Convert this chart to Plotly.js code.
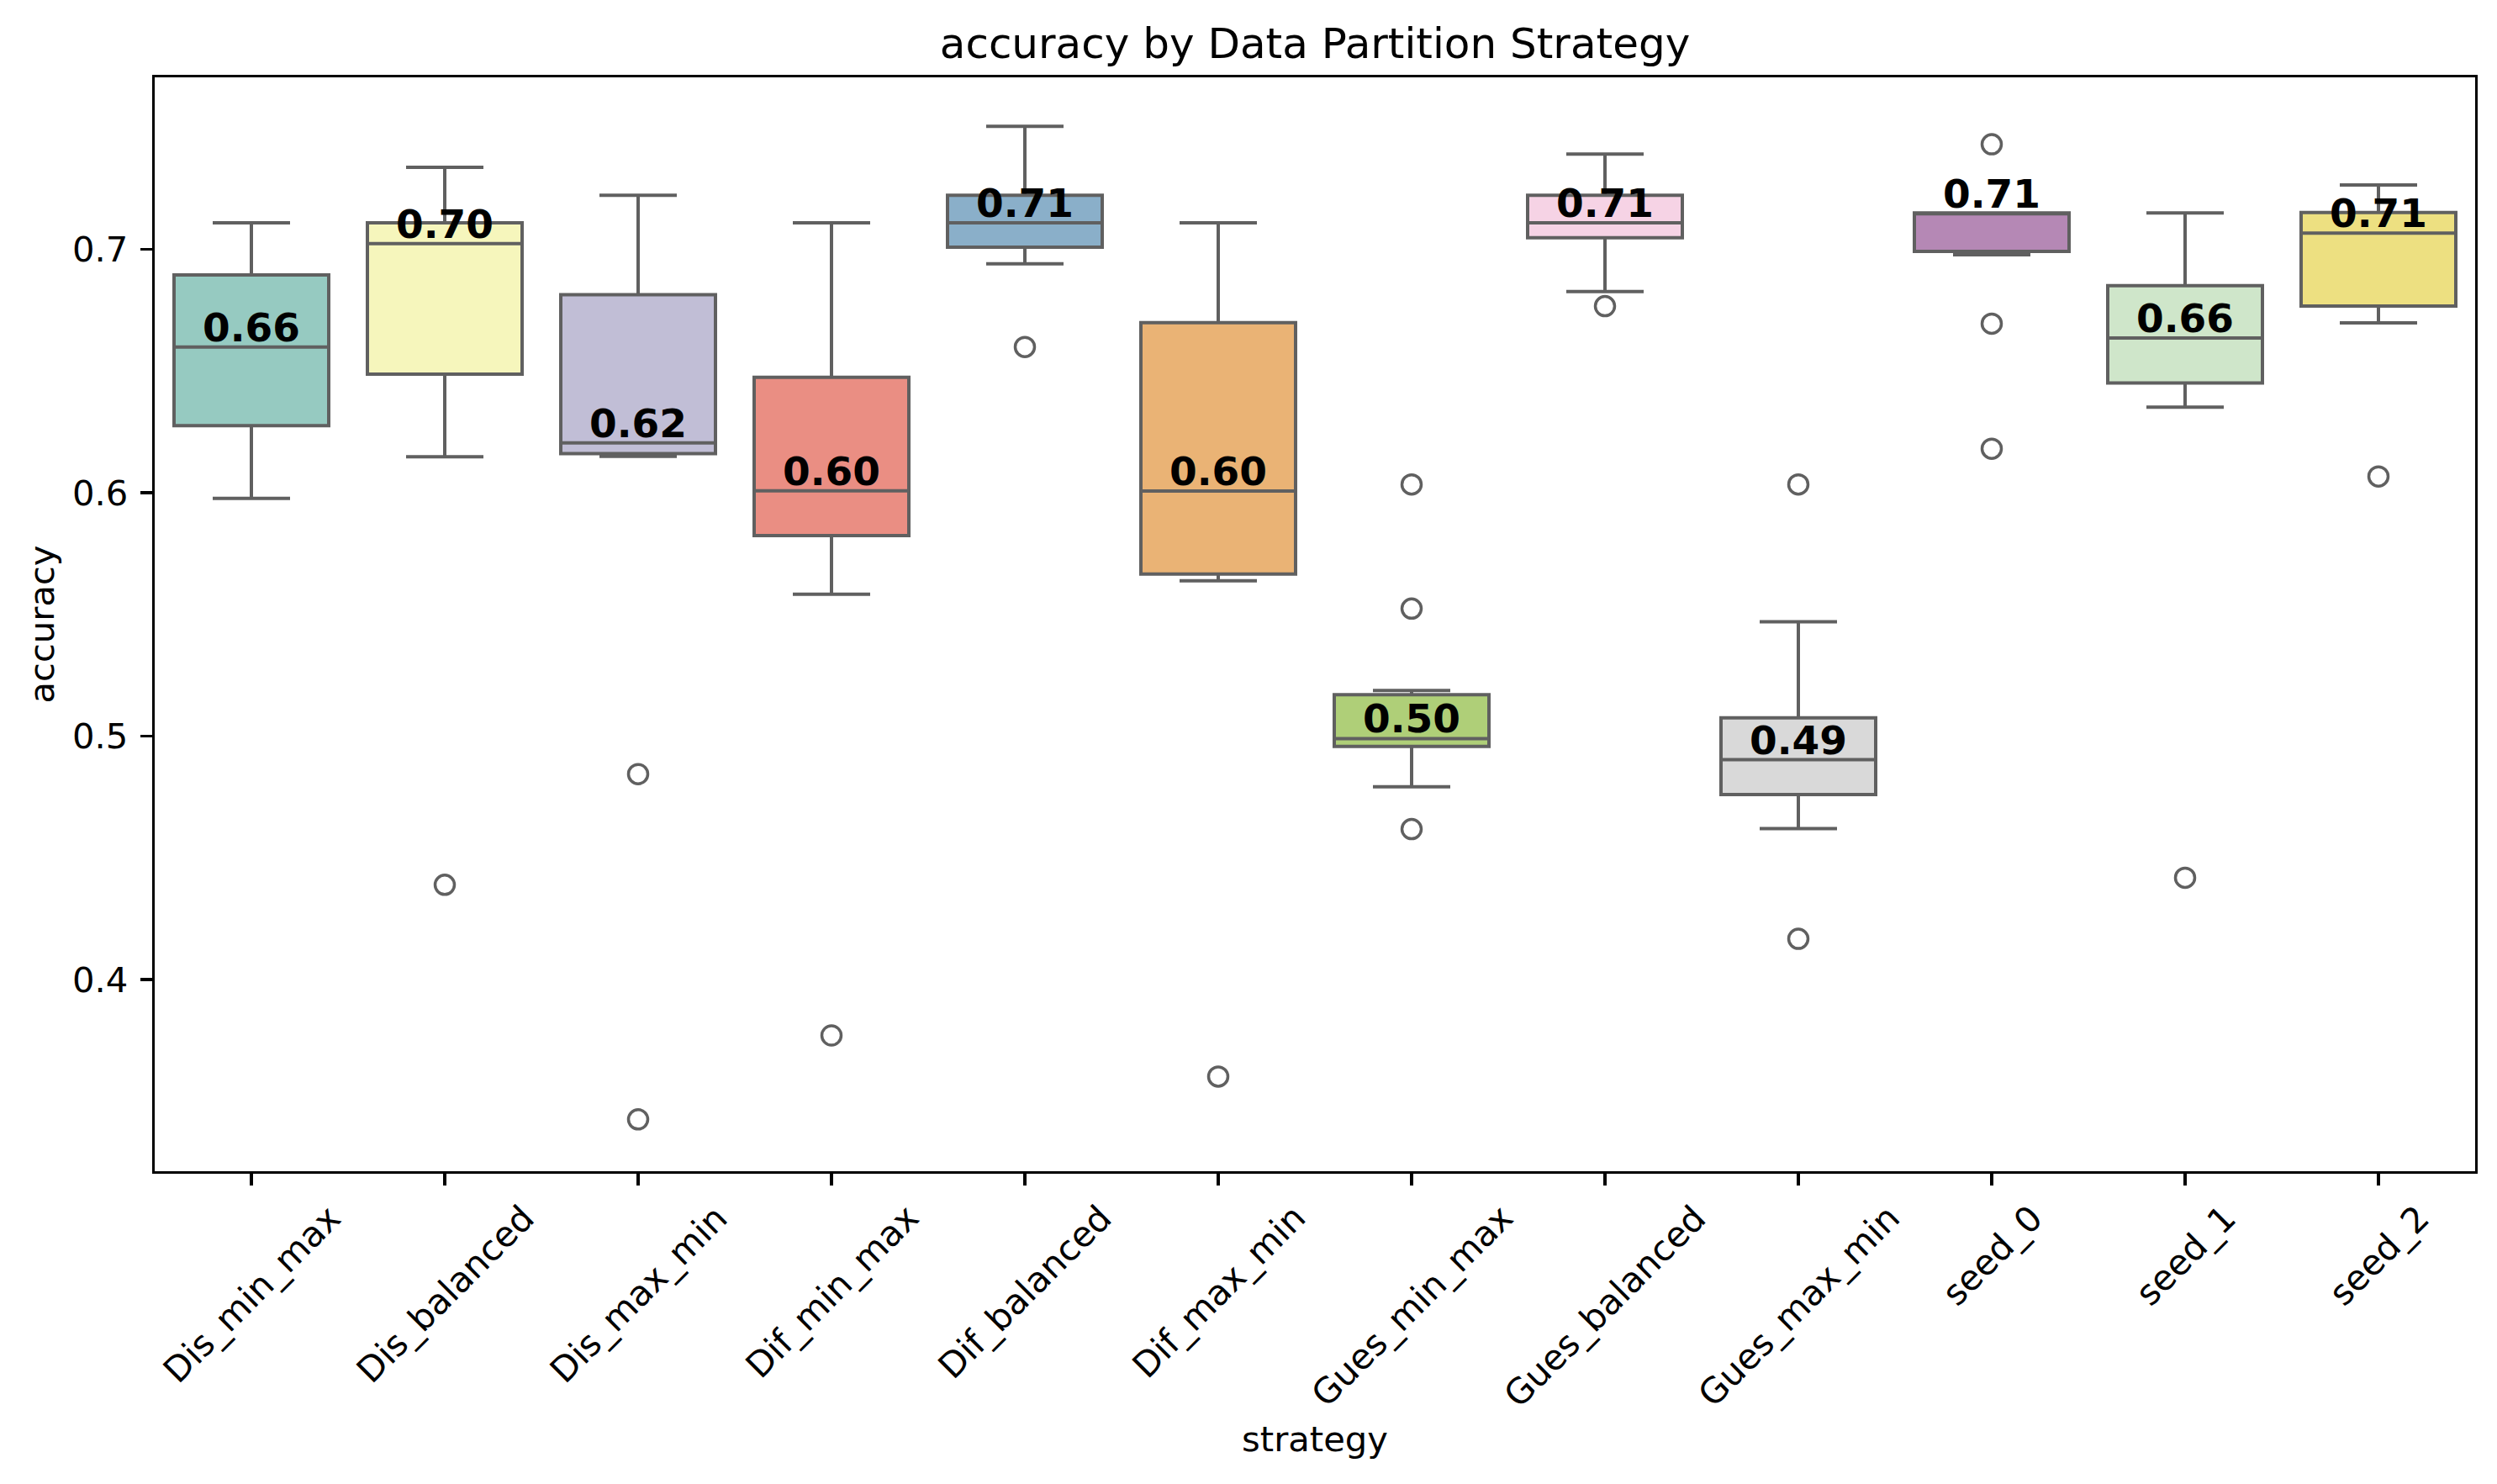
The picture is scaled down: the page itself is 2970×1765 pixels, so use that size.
<!DOCTYPE html>
<html><head><meta charset="utf-8">
<script src="https://cdn.plot.ly/plotly-3.0.1.min.js"></script>
<style>html,body{margin:0;padding:0;background:#fff}</style>
</head><body>
<div id="chart" style="width:2970px;height:1765px"></div>
<script>
// ---- data ----
const categories = ["Dis_min_max","Dis_balanced","Dis_max_min","Dif_min_max","Dif_balanced","Dif_max_min","Gues_min_max","Gues_balanced","Gues_max_min","seed_0","seed_1","seed_2"];
const lowerWhisker = [0.5977, 0.6148, 0.6150, 0.5583, 0.6941, 0.5638, 0.4792, 0.6827, 0.4620, 0.6978, 0.6352, 0.6698];
const q1Values     = [0.6276, 0.6487, 0.6161, 0.5824, 0.7009, 0.5666, 0.4958, 0.7048, 0.4760, 0.6992, 0.6451, 0.6767];
const medianValues = [0.6599, 0.7024, 0.6205, 0.6008, 0.7109, 0.6007, 0.4990, 0.7109, 0.4903, 0.7146, 0.6636, 0.7067];
const q3Values     = [0.6895, 0.7109, 0.6814, 0.6474, 0.7222, 0.6699, 0.5170, 0.7222, 0.5075, 0.7150, 0.6851, 0.7152];
const upperWhisker = [0.7109, 0.7337, 0.7222, 0.7109, 0.7506, 0.7109, 0.5187, 0.7392, 0.5470, 0.7150, 0.7150, 0.7265];
const outlierValues = [
  [],
  [0.4389],
  [0.4844, 0.3425],
  [0.3770],
  [0.6599],
  [0.3601],
  [0.6034, 0.5524, 0.4618],
  [0.6767],
  [0.6034, 0.4167],
  [0.7432, 0.6695, 0.6181],
  [0.4418],
  [0.6067]
];
const yTicks = [0.4, 0.5, 0.6, 0.7];
const yTickLabels = ["0.4", "0.5", "0.6", "0.7"];

// ---- styling ----
const set3 = ["#8dd3c7","#ffffb3","#bebada","#fb8072","#80b1d3","#fdb462","#b3de69","#fccde5","#d9d9d9","#bc80bd","#ccebc5","#ffed6f"];
function desaturate(hex, prop) {
  let r = parseInt(hex.slice(1,3),16)/255, g = parseInt(hex.slice(3,5),16)/255, b = parseInt(hex.slice(5,7),16)/255;
  const mx = Math.max(r,g,b), mn = Math.min(r,g,b);
  const l = (mx+mn)/2;
  if (mx === mn) return hex;
  const d = mx-mn;
  let s = l > 0.5 ? d/(2-mx-mn) : d/(mx+mn);
  let h;
  if (mx === r) h = ((g-b)/d + (g<b?6:0));
  else if (mx === g) h = (b-r)/d + 2;
  else h = (r-g)/d + 4;
  h /= 6;
  s *= prop;
  const q = l < 0.5 ? l*(1+s) : l+s-l*s;
  const p = 2*l - q;
  function hue2rgb(t){ if(t<0)t+=1; if(t>1)t-=1; if(t<1/6)return p+(q-p)*6*t; if(t<1/2)return q; if(t<2/3)return p+(q-p)*(2/3-t)*6; return p; }
  const R = Math.round(hue2rgb(h+1/3)*255), G = Math.round(hue2rgb(h)*255), B = Math.round(hue2rgb(h-1/3)*255);
  return "rgb("+R+","+G+","+B+")";
}
const lineGray = "#606060";
const FONT = "DejaVu Sans, Verdana, sans-serif";

const traces = categories.map((c, i) => ({
  type: "box",
  x: [c],
  q1: [q1Values[i]],
  median: [medianValues[i]],
  q3: [q3Values[i]],
  lowerfence: [lowerWhisker[i]],
  upperfence: [upperWhisker[i]],
  boxpoints: false,
  width: 0.8,
  whiskerwidth: 0.5,
  fillcolor: desaturate(set3[i], 0.75),
  line: {color: lineGray, width: 4},
  showlegend: false,
  hoverinfo: "skip"
}));

const oxs = [], oys = [];
categories.forEach((c, i) => outlierValues[i].forEach(v => { oxs.push(c); oys.push(v); }));
traces.push({
  type: "scatter", mode: "markers", x: oxs, y: oys,
  marker: {symbol: "circle-open", size: 23, color: lineGray, line: {width: 3.5, color: lineGray}},
  showlegend: false, hoverinfo: "skip"
});

const annotations = [];
categories.forEach((c, i) => {
  annotations.push({
    x: c, y: medianValues[i], xref: "x", yref: "y",
    text: "<b>" + medianValues[i].toFixed(2) + "</b>",
    showarrow: false, xanchor: "center", yanchor: "bottom", yshift: -6,
    font: {family: FONT, size: 47, color: "#000"}
  });
  annotations.push({
    x: c, y: 0, xref: "x", yref: "paper",
    text: c, showarrow: false, textangle: -45,
    xanchor: "center", yanchor: "top", yshift: -28,
    font: {family: FONT, size: 41.7, color: "#000"}
  });
});

const layout = {
  width: 2970, height: 1765,
  margin: {l: 184, r: 26, t: 92, b: 372},
  paper_bgcolor: "#fff", plot_bgcolor: "#fff",
  font: {family: FONT, size: 41.7, color: "#000"},
  title: {text: "accuracy by Data Partition Strategy", font: {family: FONT, size: 50, color: "#000"}, x: 0.5266, xanchor: "center", y: 1 - 51/1765, yanchor: "middle"},
  showlegend: false,
  hovermode: false,
  boxmode: "overlay",
  xaxis: {
    type: "category", categoryorder: "array", categoryarray: categories,
    range: [-0.5, categories.length - 0.5],
    showgrid: false, zeroline: false,
    showline: true, linecolor: "#000", linewidth: 3.3, mirror: true,
    ticks: "outside", ticklen: 14, tickwidth: 3.3, tickcolor: "#000",
    showticklabels: false,
    title: {text: "strategy", font: {family: FONT, size: 41.7, color: "#000"}, standoff: 288}
  },
  yaxis: {
    range: [0.3212, 0.7707],
    tickvals: yTicks, ticktext: yTickLabels,
    showgrid: false, zeroline: false,
    showline: true, linecolor: "#000", linewidth: 3.3, mirror: true,
    ticks: "outside", ticklen: 14, tickwidth: 3.3, tickcolor: "#000",
    tickfont: {family: FONT, size: 41.7, color: "#000"},
    ticklabelstandoff: 6,
    title: {text: "accuracy", font: {family: FONT, size: 41.7, color: "#000"}, standoff: 9}
  },
  annotations: annotations
};

Plotly.newPlot("chart", traces, layout, {staticPlot: true, displayModeBar: false});
</script>
</body></html>
